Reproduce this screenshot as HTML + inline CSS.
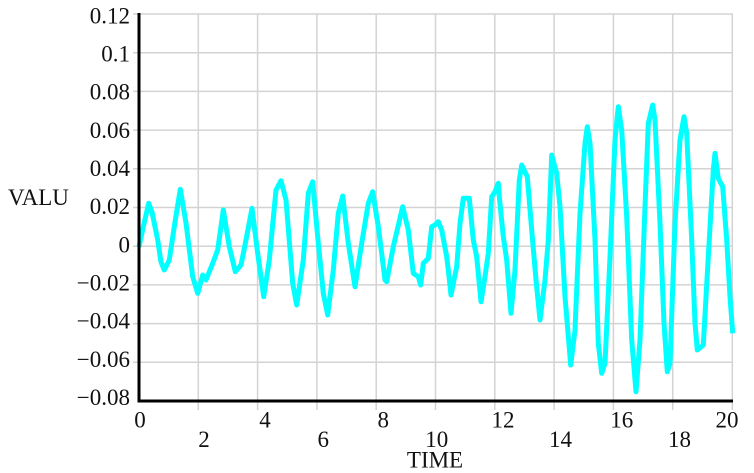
<!DOCTYPE html>
<html>
<head>
<meta charset="utf-8">
<style>
html,body{margin:0;padding:0;background:#fff;}
svg{display:block;}
text{font-family:"Liberation Serif","DejaVu Serif",serif;font-size:23px;fill:#111;}
</style>
</head>
<body>
<svg width="754" height="473" viewBox="0 0 754 473" xmlns="http://www.w3.org/2000/svg">
<g stroke="#d3d3d3" stroke-width="1.5" fill="none">
<line x1="133" y1="14" x2="733" y2="14"/>
<line x1="133" y1="52.7" x2="733" y2="52.7"/>
<line x1="133" y1="91.4" x2="733" y2="91.4"/>
<line x1="133" y1="130.1" x2="733" y2="130.1"/>
<line x1="133" y1="168.8" x2="733" y2="168.8"/>
<line x1="133" y1="207.5" x2="733" y2="207.5"/>
<line x1="133" y1="246.2" x2="733" y2="246.2"/>
<line x1="133" y1="284.9" x2="733" y2="284.9"/>
<line x1="133" y1="323.6" x2="733" y2="323.6"/>
<line x1="133" y1="362.3" x2="733" y2="362.3"/>
<line x1="198.3" y1="14" x2="198.3" y2="410"/>
<line x1="257.6" y1="14" x2="257.6" y2="410"/>
<line x1="316.9" y1="14" x2="316.9" y2="410"/>
<line x1="376.2" y1="14" x2="376.2" y2="410"/>
<line x1="435.5" y1="14" x2="435.5" y2="410"/>
<line x1="494.8" y1="14" x2="494.8" y2="410"/>
<line x1="554.1" y1="14" x2="554.1" y2="410"/>
<line x1="613.4" y1="14" x2="613.4" y2="410"/>
<line x1="672.7" y1="14" x2="672.7" y2="410"/>
<line x1="732.3" y1="14" x2="732.3" y2="410"/>
</g>
<polyline fill="none" stroke="#00ffff" stroke-width="5" stroke-linejoin="round" stroke-linecap="butt" points="139,247 143,228 148.7,203.3 152,212 157.7,240 161,262 164.3,270 169.3,260 175,222 180.3,189.3 186,223 192.7,276.7 197.7,293.3 202.7,275 206,280 212.7,263.3 217.7,250 223.3,210 229.3,246.7 235.3,271.7 241,265 246,240 252,208.3 257.7,253.3 263.7,296.7 269.3,260 276,190 281,180.7 286,200 292.7,283.3 296.7,305 303.3,260 308.3,193.3 312.7,181.7 318.3,243.3 323.3,293.3 327.7,315 333.3,270 338.3,213.3 342.7,196 348.3,243.3 355,286.7 361.7,243.3 368.3,203.3 372.7,191.7 378.3,226.7 385,280 386.7,281.7 393.3,246.7 402.7,206.7 408.3,230 413.3,273.3 418.3,276.7 420.7,285 423.3,263.3 428.3,258.3 431.7,226.7 435,225 438.3,221.7 441.7,230 446.7,256.7 448.3,270 451,295 456.7,266.7 460,223.3 463.3,198.3 469.3,198.3 473.3,240 476.7,256.7 481,301.7 485,276.7 488.3,253.3 491.7,196.7 495,191.7 498.3,183.3 499.3,196.7 503.3,236.7 506.7,260 511,313.3 515,270 519.3,180 521.7,165 527.3,176.7 531.7,230 536,280 540,320 545,280 548.3,240 551.7,155 556.7,173.3 560,206.7 565,296.7 570.7,365 575,330 580,213.3 585,143.3 587.3,126.7 590,143.3 595,240 598.3,343.3 601.7,373.3 605,363.3 610,256.7 615,140 618.3,106.7 621.7,130 626.7,216.7 631.7,340 636,391.7 640,340 645,206.7 648.3,123.3 652.7,105 655,120 660,223.3 664,323.3 667.3,371.7 670,363.3 675,223.3 680,140 684,116.7 686.7,133.3 691.7,240 695,323.3 697.3,350 703.3,345 708.3,256.7 713.3,170 715,153.3 718.3,178.3 722.7,186.7 726.7,240 730,296.7 732.7,333.3"/>
<g stroke="#000" stroke-width="3" fill="none">
<line x1="139" y1="13" x2="139" y2="402.5"/>
<line x1="137.5" y1="401" x2="733" y2="401"/>
</g>
<g text-anchor="end">
<text x="130" y="23.3">0.12</text>
<text x="130" y="61.5">0.1</text>
<text x="130" y="99.6">0.08</text>
<text x="130" y="137.8">0.06</text>
<text x="130" y="176">0.04</text>
<text x="130" y="214.2">0.02</text>
<text x="130" y="252.3">0</text>
<text x="130" y="290.5">−0.02</text>
<text x="130" y="328.7">−0.04</text>
<text x="130" y="366.8">−0.06</text>
<text x="130" y="405">−0.08</text>
</g>
<g text-anchor="middle">
<text x="140" y="427.5">0</text>
<text x="265" y="427.5">4</text>
<text x="383.3" y="427.5">8</text>
<text x="503" y="427.5">12</text>
<text x="621.7" y="427.5">16</text>
<text x="727" y="427.5">20</text>
<text x="204" y="447">2</text>
<text x="323.3" y="447">6</text>
<text x="436.7" y="447">10</text>
<text x="560.5" y="447">14</text>
<text x="679.5" y="447">18</text>
<text x="435" y="467.5">TIME</text>
</g>
<text x="8" y="205">VALU</text>
</svg>
</body>
</html>
